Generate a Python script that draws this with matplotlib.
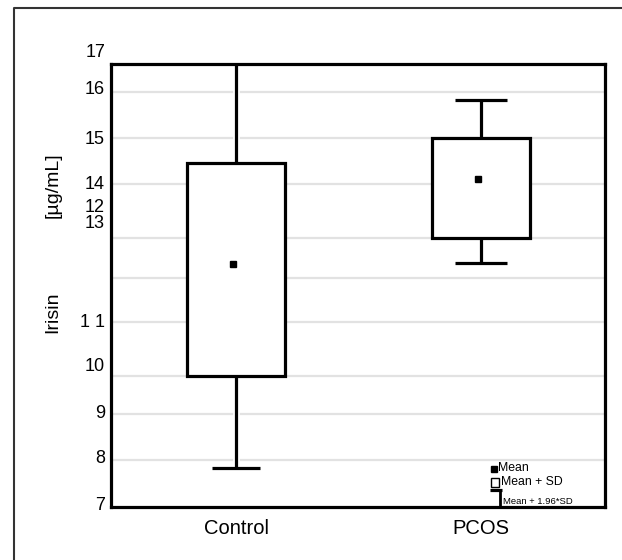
import matplotlib
matplotlib.use("Agg")
import matplotlib.pyplot as plt
import matplotlib.patheffects as pe
from matplotlib.patches import Rectangle
from matplotlib.lines import Line2D

plt.rcParams['font.family'] = ['Liberation Sans', 'DejaVu Sans']

# Data
groups = ["Control", "PCOS"]
positions = [1, 2]
box_low = [9.96, 13.08]      # Mean - SD
box_high = [14.76, 15.34]    # Mean + SD
whisk_low = [7.88, 12.50]    # Mean - 1.96*SD
whisk_high = [17.5, 16.19]   # Mean + 1.96*SD
means = [12.48, 14.41]

# Axis decoration (as printed in the reference)
grid_values = [16.38, 15.34, 14.29, 13.08, 12.18, 11.17, 9.95, 9.10, 8.06]
tick_labels = ["17", "16", "15", "14", "12", "13", "1 1", "10", "9", "8", "7"]
tick_positions = [17.26, 16.42, 15.31, 14.29, 13.77, 13.41, 11.17, 10.18, 9.10, 8.08, 7.02]

fig = plt.figure(figsize=(6.22, 5.6), dpi=100)
ax = fig.add_axes([0.178, 0.0952, 0.7947, 0.79])
ax.set_xlim(0.487, 2.507)
ax.set_ylim(7, 17)

halo = [pe.Stroke(linewidth=4.8, foreground='white'), pe.Normal()]

for g in grid_values:
    ax.axhline(g, color='#e2e2e2', lw=1.6, zorder=1)

box_w = 0.40
cap_w = [0.195, 0.215]
for i, x in enumerate(positions):
    # whiskers
    ax.plot([x, x], [box_high[i], whisk_high[i]], color='black', lw=2.3,
            zorder=3, path_effects=halo, solid_capstyle='butt')
    ax.plot([x, x], [whisk_low[i], box_low[i]], color='black', lw=2.3,
            zorder=3, path_effects=halo, solid_capstyle='butt')
    ax.plot([x - cap_w[i] / 2, x + cap_w[i] / 2], [whisk_low[i]] * 2,
            color='black', lw=2.3, zorder=3, solid_capstyle='butt')
    if whisk_high[i] < 17:
        ax.plot([x - cap_w[i] / 2, x + cap_w[i] / 2], [whisk_high[i]] * 2,
                color='black', lw=2.3, zorder=3, solid_capstyle='butt')
    rect = Rectangle((x - box_w / 2, box_low[i]), box_w, box_high[i] - box_low[i],
                     facecolor='white', edgecolor='black', lw=2.3, zorder=4)
    ax.add_patch(rect)
    ax.plot([x - 0.012], [means[i]], marker='s', color='black', ms=5, zorder=5,
            linestyle='none')

for s in ax.spines.values():
    s.set_linewidth(2.3)
    s.set_zorder(10)

ax.set_yticks([])
ax.set_xticks(positions)
ax.set_xticklabels(groups, fontsize=14.5)
ax.tick_params(axis='x', length=0, pad=9)

ytr = ax.get_yaxis_transform()
for lab, pos in zip(tick_labels, tick_positions):
    ax.text(-0.0115, pos, lab, transform=ytr, ha='right', va='center',
            fontsize=13, clip_on=False)

# legend (drawn as in the reference)
ta = ax.transAxes
ax.plot([0.7744], [0.0852], marker='s', color='black', ms=4.3, transform=ta,
        zorder=6, linestyle='none')
ax.text(0.7835, 0.0872, "Mean", transform=ta, fontsize=8.8, va='center', ha='left')
ax.add_patch(Rectangle((0.7695, 0.0447), 0.0162, 0.0203, transform=ta,
                       facecolor='white', edgecolor='black', lw=1.0, zorder=6))
ax.plot([0.767, 0.7917], [0.0377, 0.0377], color='black', lw=2.3, transform=ta,
        zorder=6, solid_capstyle='butt')
ax.plot([0.7885, 0.7885], [0.0377, 0.0], color='black', lw=2.0, transform=ta,
        zorder=6, solid_capstyle='butt')
ax.text(0.7895, 0.0561, "Mean + SD", transform=ta, fontsize=8.8, va='center', ha='left')
ax.text(0.7935, 0.0113, "Mean + 1.96*SD", transform=ta, fontsize=6.8, va='center', ha='left')

# y-axis title (two parts, as in the reference)
fig.text(0.0852, 0.443, "Irisin", rotation=90, fontsize=14, ha='center', va='center')
fig.text(0.0852, 0.670, "[µg/mL]", rotation=90, fontsize=14, ha='center', va='center')

# outer frame: only left and top edges are visible in the reference
fx, fy = 13.5 / 622, 1 - 7.5 / 560
fig.lines.append(Line2D([fx, fx, 1.05], [-0.05, fy, fy], transform=fig.transFigure,
                        color='#333333', lw=1.5))

fig.savefig("out.png", dpi=100)
